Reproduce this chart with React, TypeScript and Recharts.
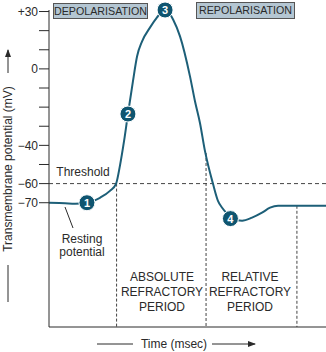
import {
  ComposedChart,
  Line,
  Scatter,
  ReferenceLine,
  XAxis,
  YAxis,
} from "recharts";

// Action potential trace: time (arbitrary units 0–100) vs membrane potential (mV)
const curveT = [
  0, 5.8, 9.4, 13.7, 18.4, 22, 24.2, 25.6, 27.1, 28.5, 30.3, 31.8, 33.6, 36.5, 39, 40.8, 41.9,
  43, 44.8, 47.3, 50.9, 52.7, 54.5, 56.3, 59.2, 61, 62.5, 64.3, 66.1, 69.7, 73.3, 76.9, 79.8,
  82.7, 100,
];
const curveV = [
  -70, -70.3, -70.5, -70, -67.4, -63.8, -60.1, -50.7, -37.7, -23.6, -6.5, 6.6, 14.4, 21.7, 26.9,
  30, 30.8, 30, 25.8, 17, -3.9, -16.9, -28.3, -42.9, -60.1, -69, -72.6, -75.7, -78.3, -79.4,
  -77.8, -75.2, -72.6, -71.6, -71.6,
];

// numbered phase markers on the trace
const markerT = [13.7, 28.5, 41.9, 65.5];
const markerV = [-70, -23.6, 30.8, -78.3];
const markerLabels = ["1", "2", "3", "4"];

// refractory period boundaries: time and the potential where each dashed line starts
const periodT = [24.4, 56.7, 89.5];
const periodTopV = [-60, -44, -71.6];

const yTicks = [30, 20, 10, 0, -10, -20, -30, -40, -50, -60, -70];
const yTickLabels: Record<number, string> = {
  30: "+30",
  0: "0",
  [-40]: "\u221240",
  [-60]: "\u221260",
  [-70]: "\u221270",
};
const threshold = -60;

const TEAL = "#1d5f78";
const DOT = "#0f5570";
const INK = "#2a2a2a";
const FONT = "'Liberation Sans', Arial, Helvetica, sans-serif";

const curve = curveT.map((t, i) => ({ t, v: curveV[i] }));
const markers = markerT.map((t, i) => ({ t, v: markerV[i], label: markerLabels[i] }));

function MarkerShape(props: any) {
  const { cx, cy, payload } = props;
  return (
    <g>
      <circle cx={cx} cy={cy} r={8} fill={DOT} stroke="#fff" strokeWidth={1} />
      <text
        x={cx}
        y={cy}
        dy="0.36em"
        textAnchor="middle"
        fill="#fff"
        fontSize={11}
        fontWeight={700}
        fontFamily={FONT}
      >
        {payload.label}
      </text>
    </g>
  );
}

function Overlay() {
  return (
    <svg
      width={326}
      height={352}
      style={{ position: "absolute", left: 0, top: 0, pointerEvents: "none" }}
      fontFamily={FONT}
    >
      <defs>
        <marker id="ah" markerWidth={8} markerHeight={8} refX={7} refY={4} orient="auto">
          <path d="M0,1 L8,4 L0,7 Z" fill={INK} />
        </marker>
      </defs>

      {/* phase boxes */}
      <rect x={53.5} y={3.5} width={94} height={15} fill="#b4c6d2" stroke="#555" />
      <text x={100.5} y={11} dy="0.36em" textAnchor="middle" fontSize={10.7} fill={INK}>
        DEPOLARISATION
      </text>
      <rect x={196.5} y={2.5} width={98} height={16} fill="#b4c6d2" stroke="#555" />
      <text x={245.5} y={10.5} dy="0.36em" textAnchor="middle" fontSize={10.7} fill={INK}>
        REPOLARISATION
      </text>

      <text x={83} y={172} dy="0.36em" textAnchor="middle" fontSize={12} fill={INK}>
        Threshold
      </text>

      <line x1={65} y1={207} x2={73} y2={228} stroke={INK} strokeWidth={1} />
      <text x={82} y={239} dy="0.36em" textAnchor="middle" fontSize={12} fill={INK}>
        Resting
      </text>
      <text x={82} y={252} dy="0.36em" textAnchor="middle" fontSize={12} fill={INK}>
        potential
      </text>

      <g fontSize={12} fill={INK} textAnchor="middle">
        <text x={162} y={277} dy="0.36em">ABSOLUTE</text>
        <text x={162} y={292} dy="0.36em">REFRACTORY</text>
        <text x={162} y={307} dy="0.36em">PERIOD</text>
        <text x={250} y={277} dy="0.36em">RELATIVE</text>
        <text x={250} y={292} dy="0.36em">REFRACTORY</text>
        <text x={250} y={307} dy="0.36em">PERIOD</text>
      </g>

      {/* y axis title */}
      <line x1={8} y1={302} x2={8} y2={265} stroke={INK} />
      <text
        x={8}
        y={169}
        dy="0.36em"
        textAnchor="middle"
        fontSize={12}
        fill={INK}
        transform="rotate(-90 8 169)"
      >
        Transmembrane potential (mV)
      </text>
      <line x1={8} y1={73} x2={8} y2={50} stroke={INK} markerEnd="url(#ah)" />

      {/* x axis title */}
      <line x1={97} y1={344} x2={133} y2={344} stroke={INK} />
      <text x={174} y={344} dy="0.36em" textAnchor="middle" fontSize={12} fill={INK}>
        Time (msec)
      </text>
      <line x1={212} y1={344} x2={255} y2={344} stroke={INK} markerEnd="url(#ah)" />
    </svg>
  );
}

export default function App() {
  return (
    <div style={{ position: "relative", width: 326, height: 352, background: "#fff" }}>
      <style>{"body{margin:0}"}</style>
      <ComposedChart width={326} height={352} margin={{ top: 10, right: 0, bottom: 0, left: 0 }}>
        <XAxis
          type="number"
          dataKey="t"
          domain={[0, 100]}
          tick={false}
          tickLine={false}
          axisLine={{ stroke: INK }}
          height={25}
        />
        <YAxis
          type="number"
          domain={[-135, 30]}
          ticks={yTicks}
          interval={0}
          tickFormatter={(v: number) => yTickLabels[v] ?? ""}
          tick={{ fontSize: 12, fill: INK, fontFamily: FONT }}
          tickLine={{ stroke: INK }}
          tickSize={10}
          tickMargin={1}
          axisLine={{ stroke: INK }}
          width={49}
        />
        <ReferenceLine y={threshold} stroke="#444" strokeDasharray="4 3" />
        {periodT.map((t, i) => (
          <ReferenceLine
            key={`p-${i}`}
            segment={[
              { x: t, y: periodTopV[i] },
              { x: t, y: -135 },
            ]}
            stroke="#444"
            strokeDasharray="3 2"
          />
        ))}
        <Line
          data={curve}
          dataKey="v"
          type="monotone"
          stroke={TEAL}
          strokeWidth={2}
          dot={false}
          activeDot={false}
          isAnimationActive={false}
        />
        <Scatter data={markers} dataKey="v" shape={<MarkerShape />} isAnimationActive={false} />
      </ComposedChart>
      <Overlay />
    </div>
  );
}
